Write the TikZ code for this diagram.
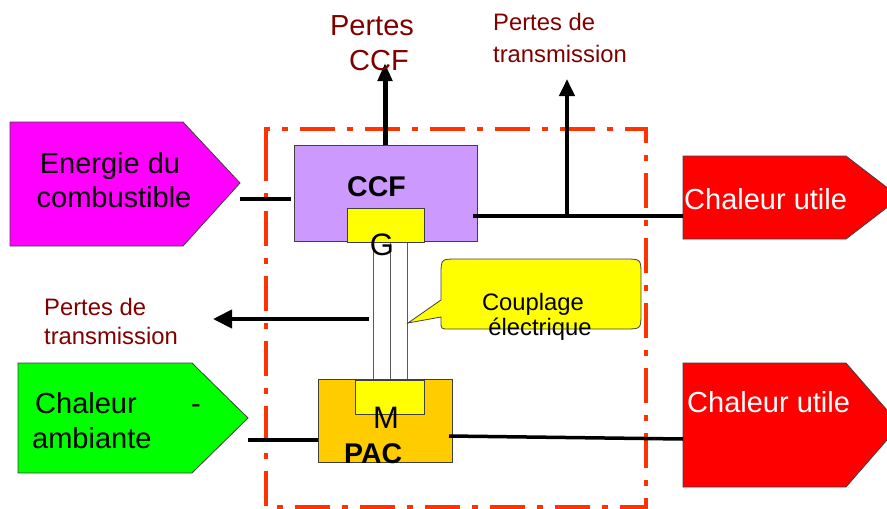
\documentclass[tikz,border=0pt]{standalone}
\usepackage{fontspec}
\setmainfont{Liberation Sans}
\usetikzlibrary{arrows.meta}
\definecolor{cMag}{HTML}{FF00FF}
\definecolor{cLav}{HTML}{CC99FF}
\definecolor{cYel}{HTML}{FFFF00}
\definecolor{cGold}{HTML}{FFCC00}
\definecolor{cGreen}{HTML}{00FF00}
\definecolor{cRed}{HTML}{FF0000}
\definecolor{cDark}{HTML}{800000}
\definecolor{cFrame}{HTML}{FF3300}
\definecolor{cEdge}{HTML}{404040}
\begin{document}
\begin{tikzpicture}[x=1pt,y=-1pt,
  shapeedge/.style={draw=cEdge,line width=0.8pt},
  boxnode/.style={shapeedge,anchor=north west,inner sep=0pt,outer sep=0pt},
  txtbig/.style={inner sep=0pt,font=\fontsize{29}{34}\selectfont},
  txtsmall/.style={inner sep=0pt,font=\fontsize{23.8}{28}\selectfont,text=cDark},
  txtbold/.style={inner sep=0pt,font=\fontsize{28.5}{33}\selectfont\bfseries},
  txtletter/.style={inner sep=0pt,font=\fontsize{31}{36}\selectfont},
  flowline/.style={line width=3.5pt,black},
  lossarrow/.style={line width=4pt,black,-{Triangle[length=17pt,width=15pt]}},
  framestyle/.style={draw=cFrame,line width=3.5pt,dash pattern=on 35pt off 12pt on 6pt off 12pt}
]
\useasboundingbox (0,0) rectangle (887,509);
\clip (0,0) rectangle (887,509);

% system frame
\draw[framestyle] (266,160) -- (266,129) -- (646,129) -- (646,507) -- (266,507) -- cycle;

% input / output pentagons
\draw[shapeedge,fill=cMag] (10,122) -- (183,122) -- (240,183) -- (183,246) -- (10,246) -- cycle;
\draw[shapeedge,fill=cGreen] (18,363) -- (192,363) -- (248,418) -- (192,473) -- (18,473) -- cycle;
\draw[shapeedge,fill=cRed] (683,156) -- (846,156) -- (900,197.5) -- (846,239) -- (683,239) -- cycle;
\draw[shapeedge,fill=cRed] (683,363) -- (846,363) -- (900,425) -- (846,487) -- (683,487) -- cycle;

% coupling rods
\node[boxnode,draw=gray!70!black,fill=white,minimum width=17pt,minimum height=137pt] (rodA) at (373,242) {};
\node[boxnode,draw=gray!70!black,fill=white,minimum width=17pt,minimum height=137pt] (rodB) at (390,242) {};

% main boxes
\node[boxnode,fill=cLav,minimum width=183pt,minimum height=96pt] (ccf) at (294,145) {};
\node[boxnode,fill=cYel,minimum width=77pt,minimum height=34pt] (gbox) at (347,208) {};
\node[boxnode,fill=cGold,minimum width=134pt,minimum height=83pt] (pac) at (318,379) {};
\node[boxnode,fill=cYel,minimum width=69pt,minimum height=34pt] (mbox) at (355,380) {};

% callout
\draw[shapeedge,fill=cYel] (441,300) -- (408,323) -- (441,317) -- (441,321) .. controls (441,329) .. (449,329)
  -- (625,329) .. controls (641,329) .. (641,313) -- (641,275) .. controls (641,259) .. (625,259)
  -- (457,259) .. controls (441,259) .. (441,275) -- cycle;

% connector coordinates
\coordinate (magTip) at (240,199);
\coordinate (ccfIn) at (291,199);
\coordinate (ccfOut) at (473,216);
\coordinate (branch) at (567,216);
\coordinate (redTopIn) at (683,216);
\coordinate (lossTop) at (567,79);
\coordinate (ccfTop) at (385,145);
\coordinate (lossCCF) at (385,63);
\coordinate (greenTip) at (248,440);
\coordinate (pacIn) at (318,440);
\coordinate (pacOut) at (449,436);
\coordinate (redBotIn) at (683,439);
\coordinate (lossMidStart) at (369,319);
\coordinate (lossMid) at (213,319);

% connectors
\draw[flowline] (magTip) -- (ccfIn);
\draw[flowline] (ccfOut) -- (redTopIn);
\draw[lossarrow] (branch) -- (lossTop);
\draw[lossarrow,line width=5pt,-{Triangle[length=18pt,width=14pt]}] (ccfTop) -- (lossCCF);
\draw[flowline] (greenTip) -- (pacIn);
\draw[flowline] (pacOut) -- (redBotIn);
\draw[lossarrow,-{Triangle[length=19pt,width=18pt]}] (lossMidStart) -- (lossMid);

% texts
\node[txtbig,anchor=base] (tE1) at (110,173) {Energie du};
\node[txtbig,anchor=base] (tE2) at (114,207) {combustible};
\node[txtbig,anchor=base west] (tA1) at (35,413) {Chaleur};
\node[txtbig,anchor=base west] (tA2) at (191,413) {-};
\node[txtbig,anchor=base west] (tA3) at (32,448) {ambiante};
\node[txtbig,anchor=base west,text=white] (tU1) at (684,209) {Chaleur utile};
\node[txtbig,anchor=base west,text=white] (tU2) at (687,412) {Chaleur utile};
\node[txtbig,anchor=base,text=cDark] (tP1) at (372,35) {Pertes};
\node[txtbig,anchor=base,text=cDark] (tP2) at (379,70) {CCF};
\node[txtsmall,anchor=base west] (tT1) at (493,30) {Pertes de};
\node[txtsmall,anchor=base west] (tT2) at (493,62) {transmission};
\node[txtsmall,anchor=base west] (tL1) at (44,315) {Pertes de};
\node[txtsmall,anchor=base west] (tL2) at (44,344) {transmission};
\node[txtbold,anchor=base west] (tCCF) at (347,196) {CCF};
\node[txtletter,anchor=base] (tG) at (382,255) {G};
\node[txtletter,anchor=base] (tM) at (386,428) {M};
\node[txtbold,anchor=base west] (tPAC) at (344,463) {PAC};
\node[txtsmall,text=black,anchor=base] (tC1) at (533,310) {Couplage};
\node[txtsmall,text=black,anchor=base] (tC2) at (540,335) {électrique};
\end{tikzpicture}
\end{document}
